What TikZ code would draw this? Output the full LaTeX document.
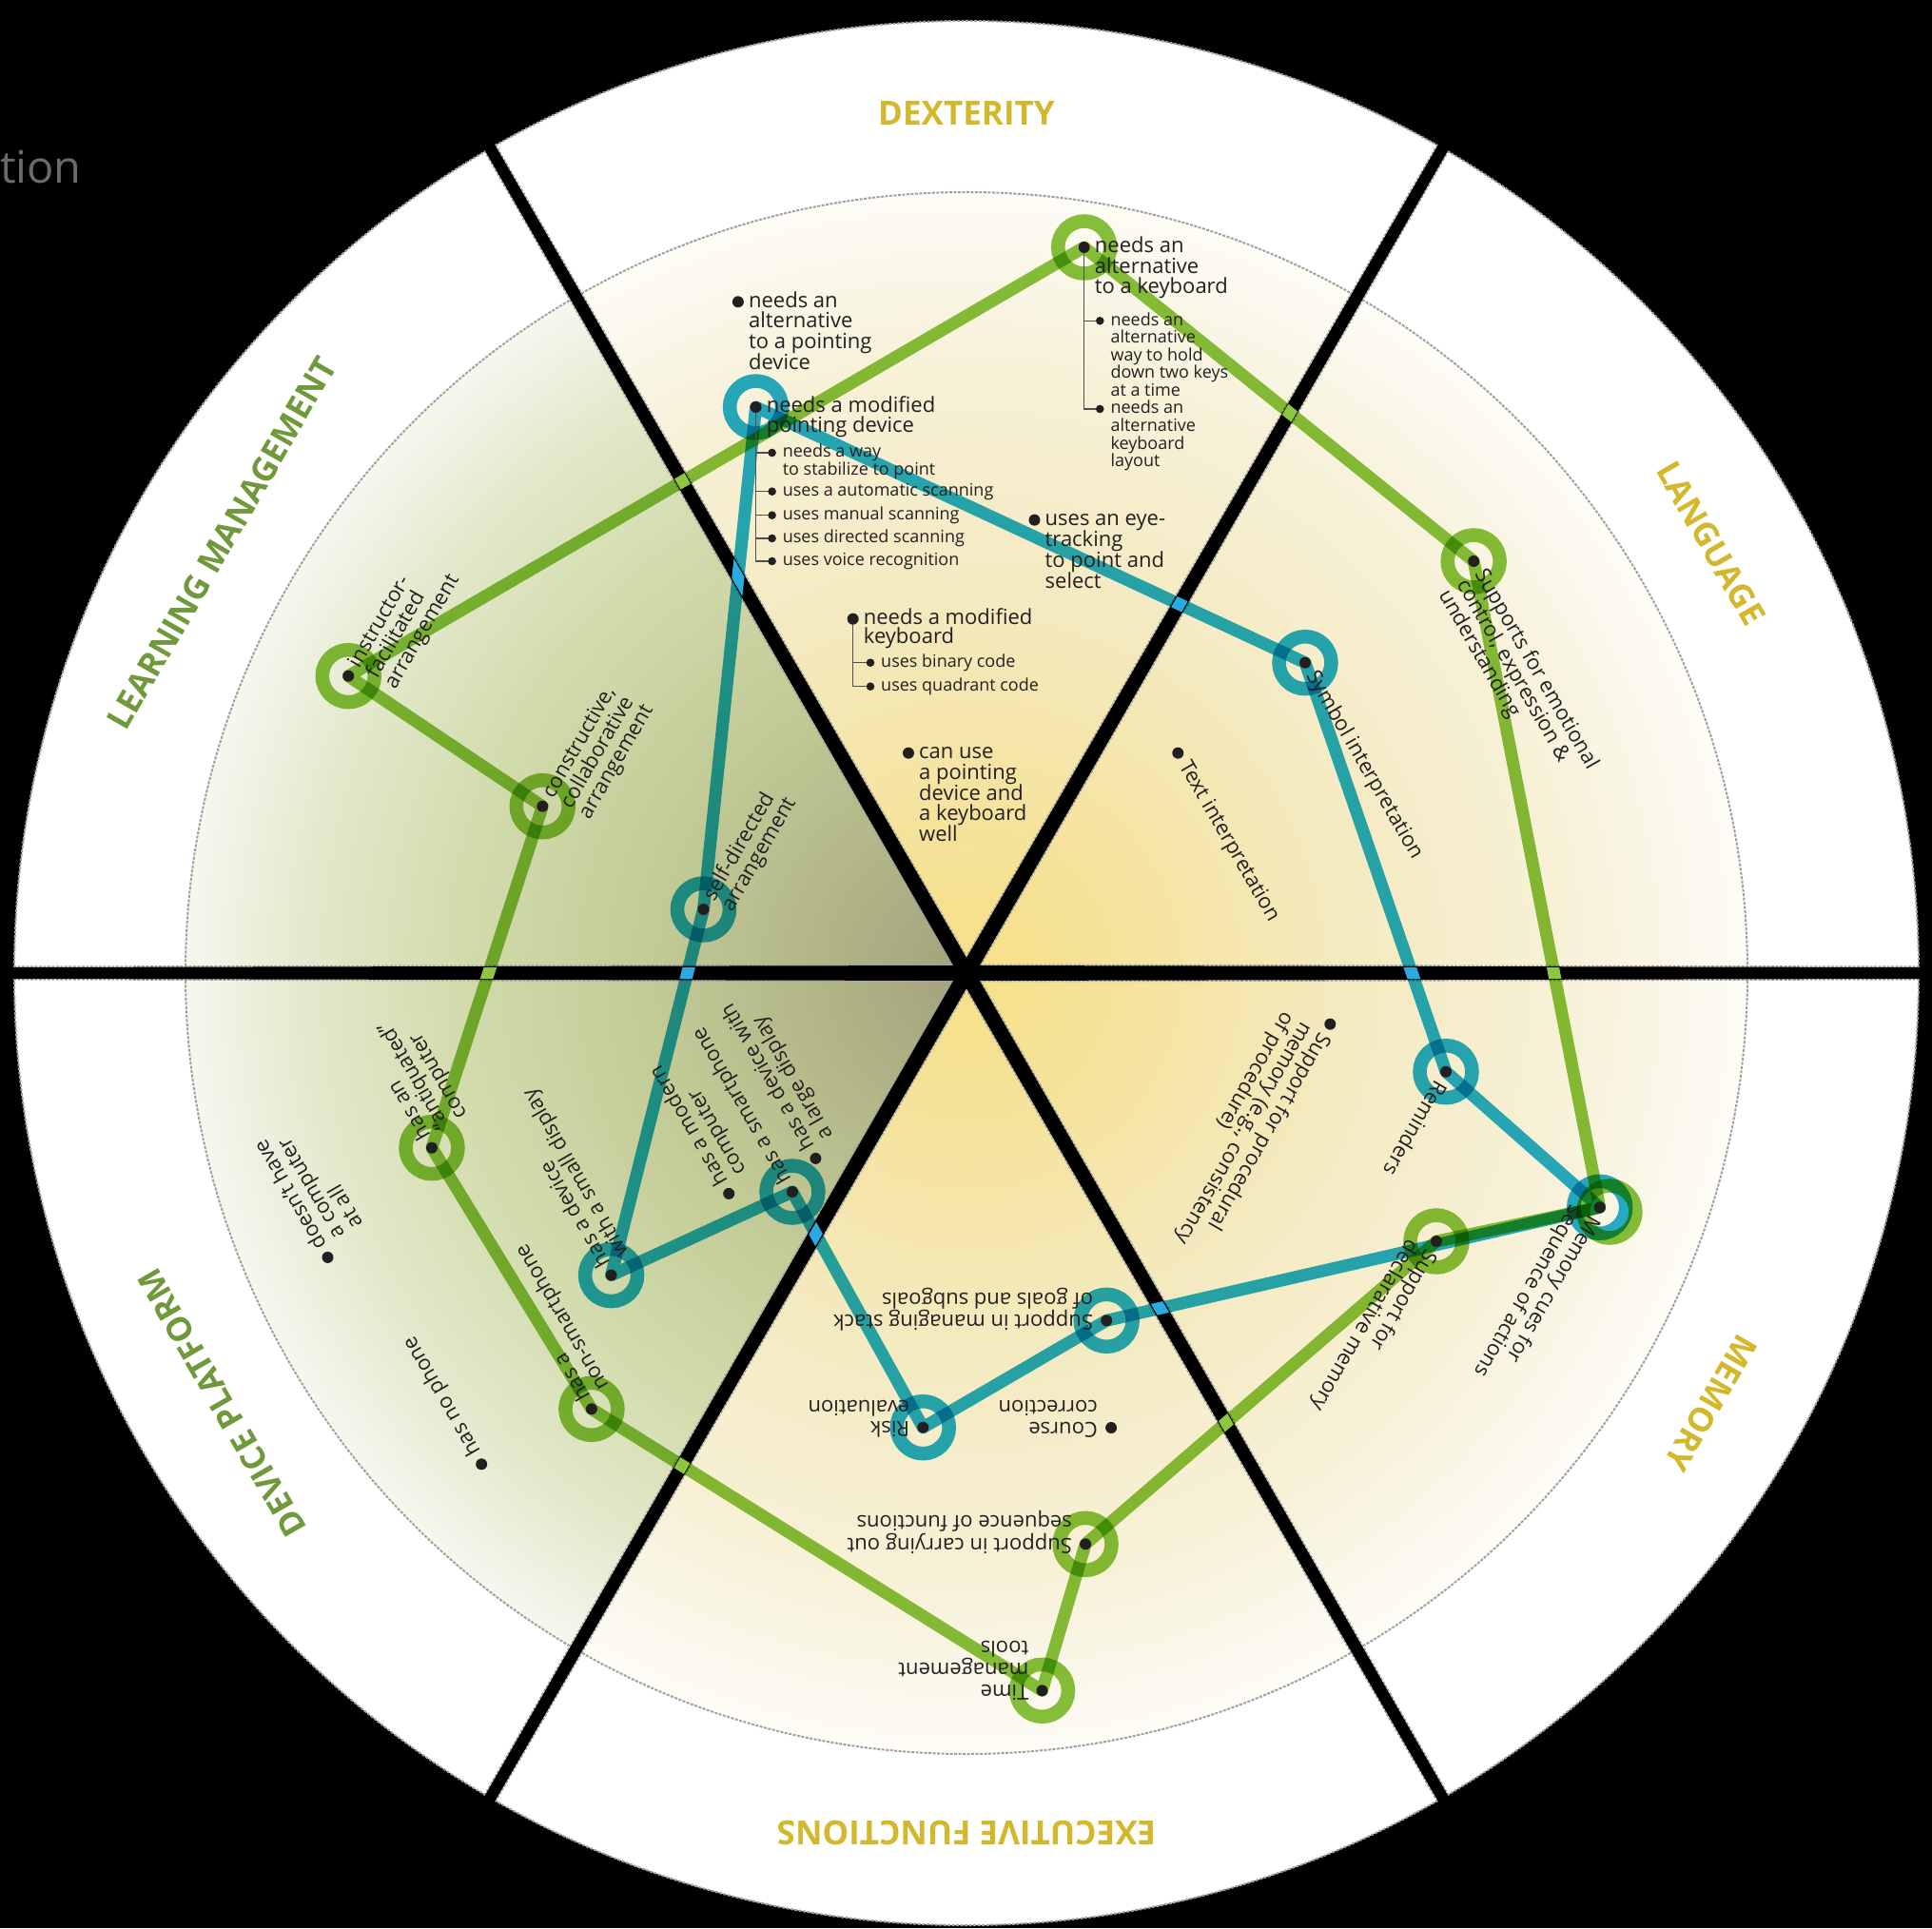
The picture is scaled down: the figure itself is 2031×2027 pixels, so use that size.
\documentclass[tikz,border=0pt]{standalone}
\usepackage{fontspec}
\setmainfont{Open Sans}
\usetikzlibrary{calc}
\definecolor{txtc}{HTML}{231F20}
\definecolor{gcol}{HTML}{87C23C}
\definecolor{bcol}{HTML}{28AFD7}
\definecolor{gx}{HTML}{8DC63F}
\definecolor{bx}{HTML}{29ABE2}
\definecolor{ylab}{HTML}{D3B82D}
\definecolor{glab}{HTML}{6F993A}
\definecolor{sepg}{HTML}{A0A0A0}
\definecolor{treec}{HTML}{505050}
\definecolor{titc}{HTML}{6B6B6B}
\definecolor{ya}{HTML}{F7E088}
\definecolor{yb}{HTML}{F5E39E}
\definecolor{yc}{HTML}{F4EAC0}
\definecolor{yd}{HTML}{F7F1D8}
\definecolor{ye}{HTML}{FDFCF6}
\definecolor{ga}{HTML}{A3A27B}
\definecolor{gb}{HTML}{B1B487}
\definecolor{gc}{HTML}{C3CC97}
\definecolor{gd}{HTML}{D2DBAC}
\definecolor{ge}{HTML}{E4E9CD}
\definecolor{gf}{HTML}{F6F7EE}
\pgfdeclareradialshading{yshade}{\pgfpoint{0bp}{0bp}}{color(0bp)=(ya); color(5.5bp)=(yb); color(12bp)=(yc); color(19.5bp)=(yd); color(25bp)=(ye); color(50bp)=(ye)}
\pgfdeclareradialshading{gshade}{\pgfpoint{0bp}{0bp}}{color(0bp)=(ga); color(4.5bp)=(gb); color(10.5bp)=(gc); color(16.25bp)=(gd); color(21.25bp)=(ge); color(25bp)=(gf); color(50bp)=(gf)}
\newcommand\stk[2]{\vtop{\baselineskip=#1pt\lineskiplimit=-1000pt\lineskip=0pt\relax #2}}
\begin{document}
\begin{tikzpicture}[x=1pt,y=1pt,
  txt/.style={inner sep=0pt, anchor=base west, text=txtc, font=\fontsize{22}{22}\selectfont},
  subt/.style={inner sep=0pt, anchor=base west, text=txtc, font=\fontsize{18}{18}\selectfont},
  sect/.style={inner sep=0pt, anchor=center, font=\fontsize{35}{35}\selectfont\bfseries},
  gpath/.style={draw=gcol, line width=13, line join=round},
  bpath/.style={draw=bcol, line width=13, line join=round},
  gring/.style={draw=gcol, line width=14.5},
  bring/.style={draw=bcol, line width=14.5},
  tree/.style={draw=treec, line width=1.2},
  rim/.style={draw=sepg, line width=2, dash pattern=on 3pt off 1.5pt}]
\fill[black] (-1016,-1004) rectangle (1015,1023);
\useasboundingbox (-1016,-1004) rectangle (1015,1023);
\node[inner sep=0pt, anchor=base east, text=titc, font=\fontsize{47}{47}\selectfont] (title) at (-930,830) {tion};
% discs
\fill[white] (0,0) circle (1001);
\shade[shading=yshade] (0,0) circle (821);
\begin{scope}
\clip (0,0) -- (120:830) arc[start angle=120, end angle=240, radius=830] -- cycle;
\shade[shading=gshade] (0,0) circle (821);
\end{scope}
\draw[rim] (0,0) circle (821);
\draw[rim] (0,0) circle (1001);
% separators (slightly tapered)
\foreach \a in {0,60,...,300}{
  \draw[draw=sepg, line width=3, dash pattern=on 3pt off 1.5pt] (\a+90:8) -- ($(\a:1002)+(\a+90:6)$) (\a-90:8) -- ($(\a:1002)+(\a-90:6)$);
}
\foreach \a in {0,60,...,300}{
  \fill[black] (\a+90:8) -- ($(\a:1003)+(\a+90:6)$) -- ($(\a:1003)+(\a-90:6)$) -- (\a-90:8) -- cycle;
}
\fill[black] (0,0) circle (9);
% sector labels
\node[sect, text=ylab, rotate=0] (lDex) at (90:904) {DEXTERITY};
\node[sect, text=ylab, rotate=-60] (lLang) at (30:904) {LANGUAGE};
\node[sect, text=ylab, rotate=240] (lMem) at (-30:904) {MEMORY};
\node[sect, text=ylab, rotate=180] (lExe) at (-90:904) {EXECUTIVE FUNCTIONS};
\node[sect, text=glab, rotate=120] (lDev) at (210:904) {DEVICE PLATFORM};
\node[sect, text=glab, rotate=60] (lLrn) at (150:904) {LEARNING MANAGEMENT};
% item positions
\coordinate (A) at (-240.1,705.7);
\coordinate (B) at (-221.4,595);
\coordinate (C) at (123.7,763);
\coordinate (D) at (71.5,476.3);
\coordinate (E) at (-119.3,372.3);
\coordinate (F) at (-61,231.3);
\coordinate (G) at (222.3,231.3);
\coordinate (H) at (356,326.3);
\coordinate (I) at (533.2,433);
\coordinate (J) at (382.3,-53.7);
\coordinate (K) at (504,-103.7);
\coordinate (L) at (665.7,-246.3);
\coordinate (Lg) at (676,-251);
\coordinate (M) at (494,-282);
\coordinate (N) at (147.2,-365.3);
\coordinate (O) at (-45.7,-477.7);
\coordinate (P) at (152.1,-478);
\coordinate (Q) at (125.1,-600.3);
\coordinate (R) at (79.5,-754.3);
\coordinate (S) at (-394.1,-458.3);
\coordinate (T) at (-509.8,-516.3);
\coordinate (U) at (-671.5,-298.9);
\coordinate (V) at (-562,-183.7);
\coordinate (W) at (-373.4,-317.6);
\coordinate (X) at (-249.8,-231.9);
\coordinate (Ya) at (-183,-230);
\coordinate (Yb) at (-158.6,-194.9);
\coordinate (Za) at (-649.7,312.3);
\coordinate (Zb) at (-445.7,175.3);
\coordinate (Zc) at (-276.5,67);
\coordinate (b1) at (-204.4,547);
\coordinate (b2) at (-204.4,506.3);
\coordinate (b3) at (-204.4,481.3);
\coordinate (b4) at (-204.4,457);
\coordinate (b5) at (-204.4,433);
\coordinate (c1) at (140.3,685.7);
\coordinate (c2) at (140.3,593);
\coordinate (e1) at (-101,326.3);
\coordinate (e2) at (-101,301.3);
% profile paths and rings
\begin{scope}[blend mode=multiply]
\draw[gpath] (Za) -- (C) -- (I) -- (L) -- (M) -- (Q) -- (R) -- (S) -- (V) -- (Zb) -- cycle;
\draw[bpath] (B) -- (H) -- (K) -- (L) -- (N) -- (O) -- (Ya) -- (W) -- (Zc) -- cycle;
\foreach \p in {C,I,M,Q,R,S,V,Za,Zb,Lg} \draw[gring] (\p) circle (27.5);
\foreach \p in {B,H,K,L,N,O,Ya,W,Zc} \draw[bring] (\p) circle (27.5);
\end{scope}
\begin{scope}
\clip (-1010,-6) rectangle (1010,6)
  ($(60:1010)+(150:6)$) -- ($(240:1010)+(150:6)$) -- ($(240:1010)+(-30:6)$) -- ($(60:1010)+(-30:6)$) -- cycle
  ($(120:1010)+(210:6)$) -- ($(300:1010)+(210:6)$) -- ($(300:1010)+(30:6)$) -- ($(120:1010)+(30:6)$) -- cycle;
\draw[gpath, draw=gx] (Za) -- (C) -- (I) -- (L) -- (M) -- (Q) -- (R) -- (S) -- (V) -- (Zb) -- cycle;
\draw[bpath, draw=bx] (B) -- (H) -- (K) -- (L) -- (N) -- (O) -- (Ya) -- (W) -- (Zc) -- cycle;
\end{scope}
% trees
\draw[tree] (B) |- (b5) (B|-b1) -- (b1) (B|-b2) -- (b2) (B|-b3) -- (b3) (B|-b4) -- (b4);
\draw[tree] (C) |- (c2) (C|-c1) -- (c1);
\draw[tree] (E) |- (e2) (E|-e1) -- (e1);
% dots
\foreach \p in {A,B,C,D,E,F,G,H,I,J,K,L,M,N,O,P,Q,R,S,T,U,V,W,X,Ya,Yb,Za,Zb,Zc} \fill[txtc] (\p) circle (6);
\foreach \p in {b1,b2,b3,b4,b5,c1,c2,e1,e2} \fill[txtc] (\p) circle (4.3);
% DEXTERITY texts
\node[txt] (tA) at ($(A)+(11,-6)$) {\stk{21.7}{\hbox{needs an}\hbox{alternative}\hbox{to a pointing}\hbox{device}}};
\node[txt] (tB) at ($(B)+(11,-6)$) {\stk{20.3}{\hbox{needs a modified}\hbox{pointing device}}};
\node[subt] (tb1) at ($(b1)+(11,-5)$) {\stk{19}{\hbox{needs a way}\hbox{to stabilize to point}}};
\node[subt] (tb2) at ($(b2)+(11,-5)$) {uses a automatic scanning};
\node[subt] (tb3) at ($(b3)+(11,-5)$) {uses manual scanning};
\node[subt] (tb4) at ($(b4)+(11,-5)$) {uses directed scanning};
\node[subt] (tb5) at ($(b5)+(11,-5)$) {uses voice recognition};
\node[txt] (tC) at ($(C)+(11,-6)$) {\stk{21.2}{\hbox{needs an}\hbox{alternative}\hbox{to a keyboard}}};
\node[subt] (tc1) at ($(c1)+(11,-5)$) {\stk{18.5}{\hbox{needs an}\hbox{alternative}\hbox{way to hold}\hbox{down two keys}\hbox{at a time}}};
\node[subt] (tc2) at ($(c2)+(11,-5)$) {\stk{18.6}{\hbox{needs an}\hbox{alternative}\hbox{keyboard}\hbox{layout}}};
\node[txt] (tD) at ($(D)+(11,-6)$) {\stk{22}{\hbox{uses an eye-}\hbox{tracking}\hbox{to point and}\hbox{select}}};
\node[txt] (tE) at ($(E)+(11,-6)$) {\stk{20}{\hbox{needs a modified}\hbox{keyboard}}};
\node[subt] (te1) at ($(e1)+(11,-5)$) {uses binary code};
\node[subt] (te2) at ($(e2)+(11,-5)$) {uses quadrant code};
\node[txt] (tF) at ($(F)+(11,-6)$) {\stk{21.7}{\hbox{can use}\hbox{a pointing}\hbox{device and}\hbox{a keyboard}\hbox{well}}};
% LANGUAGE texts
\node[txt, rotate=-60] (tG) at ($(G)+(-60:12)+(-150:6)$) {Text interpretation};
\node[txt, rotate=-60] (tH) at ($(H)+(-60:12)+(-150:6)$) {Symbol interpretation};
\node[txt, rotate=-60] (tI) at ($(I)+(-60:12)+(-150:6)$) {\stk{22}{\hbox{Supports for emotional}\hbox{control, expression \&}\hbox{understanding}}};
% MEMORY texts
\node[txt, rotate=240] (tJ) at ($(J)+(240:12)+(150:6)$) {\stk{22}{\hbox{Support for procedural}\hbox{memory (e.g., consistency}\hbox{of procedure)}}};
\node[txt, rotate=240] (tK) at ($(K)+(240:12)+(150:6)$) {Reminders};
\node[txt, rotate=240] (tL) at ($(L)+(240:12)+(150:6)$) {\stk{22}{\hbox{Memory cues for}\hbox{sequence of actions}}};
\node[txt, rotate=240] (tM) at ($(M)+(240:12)+(150:6)$) {\stk{22}{\hbox{Support for}\hbox{declarative memory}}};
% EXECUTIVE FUNCTIONS texts
\node[txt, rotate=180] (tN) at ($(N)+(180:14)+(90:6)$) {\stk{23}{\hbox{Support in managing stack}\hbox{of goals and subgoals}}};
\node[txt, rotate=180] (tO) at ($(O)+(180:14)+(90:6)$) {\stk{22.5}{\hbox{Risk}\hbox{evaluation}}};
\node[txt, rotate=180] (tP) at ($(P)+(180:14)+(90:6)$) {\stk{22.5}{\hbox{Course}\hbox{correction}}};
\node[txt, rotate=180] (tQ) at ($(Q)+(180:14)+(90:6)$) {\stk{24}{\hbox{Support in carrying out}\hbox{sequence of functions}}};
\node[txt, rotate=180] (tR) at ($(R)+(180:14)+(90:6)$) {\stk{23}{\hbox{Time}\hbox{management}\hbox{tools}}};
% DEVICE PLATFORM texts
\node[txt, rotate=120] (tS) at ($(S)+(120:12)+(30:6)$) {\stk{22}{\hbox{has a}\hbox{non-smartphone}}};
\node[txt, rotate=120] (tT) at ($(T)+(120:12)+(30:6)$) {has no phone};
\node[txt, rotate=120] (tU) at ($(U)+(120:12)+(30:6)$) {\stk{22}{\hbox{doesn’t have}\hbox{a computer}\hbox{at all}}};
\node[txt, rotate=120] (tV) at ($(V)+(120:12)+(30:6)$) {\stk{22}{\hbox{has an}\hbox{“antiquated”}\hbox{computer}}};
\node[txt, rotate=120] (tW) at ($(W)+(120:12)+(30:6)$) {\stk{22}{\hbox{has a device}\hbox{with a small display}}};
\node[txt, rotate=120] (tX) at ($(X)+(120:12)+(30:6)$) {\stk{22}{\hbox{has a modern}\hbox{computer}}};
\node[txt, rotate=120] (tYa) at ($(Ya)+(120:12)+(30:6)$) {has a smartphone};
\node[txt, rotate=120] (tYb) at ($(Yb)+(120:12)+(30:6)$) {\stk{22}{\hbox{has a device with}\hbox{a large display}}};
% LEARNING MANAGEMENT texts
\node[txt, rotate=60] (tZa) at ($(Za)+(60:12)+(-30:6)$) {\stk{22}{\hbox{instructor-}\hbox{facilitated}\hbox{arrangement}}};
\node[txt, rotate=60] (tZb) at ($(Zb)+(60:12)+(-30:6)$) {\stk{22}{\hbox{constructive,}\hbox{collaborative}\hbox{arrangement}}};
\node[txt, rotate=60] (tZc) at ($(Zc)+(60:12)+(-30:6)$) {\stk{22}{\hbox{self-directed}\hbox{arrangement}}};
\end{tikzpicture}
\end{document}
